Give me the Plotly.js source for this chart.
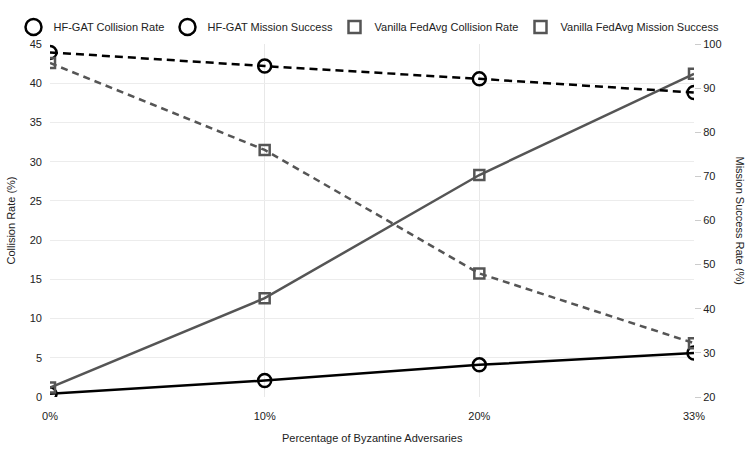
<!DOCTYPE html>
<html>
<head>
<meta charset="utf-8">
<script src="https://cdn.plot.ly/plotly-3.0.1.min.js"></script>
<style>html,body{margin:0;padding:0;background:#fff}#chart{width:751px;height:450px}</style>
</head>
<body>
<div id="chart"></div>
<script>
const categories = ["0%", "10%", "20%", "33%"];
const hfgatCollision = [0.4, 2.1, 4.1, 5.6];
const hfgatMission = [98.1, 95.0, 92.1, 89.0];
const vanillaCollision = [1.2, 12.6, 28.3, 41.2];
const vanillaMission = [95.7, 76.0, 48.0, 32.2];
const legendNames = ["HF-GAT Collision Rate", "HF-GAT Mission Success", "Vanilla FedAvg Collision Rate", "Vanilla FedAvg Mission Success"];
const axisTitles = {x: "Percentage of Byzantine Adversaries", y: "Collision Rate (%)", y2: "Mission Success Rate (%)"};

const BLACK = "#000000";
const GRAY = "#555555";
const TXT = "#222222";
const FS = 11;

const circle = {symbol: "circle-open", size: 13, color: BLACK, line: {width: 2.5, color: BLACK}};
const square = {symbol: "square-open", size: 10, color: GRAY, line: {width: 2.5, color: GRAY}};
const legCircle = {symbol: "circle-open", size: 16, color: BLACK, line: {width: 2.5, color: BLACK}};
const legSquare = {symbol: "square-open", size: 12, color: GRAY, line: {width: 2.5, color: GRAY}};

const data = [
  {x: categories, y: hfgatCollision, mode: "lines+markers", yaxis: "y", showlegend: false,
   line: {color: BLACK, width: 2.5}, marker: circle},
  {x: categories, y: hfgatMission, mode: "lines+markers", yaxis: "y2", showlegend: false,
   line: {color: BLACK, width: 2.5, dash: "8px,5px"}, marker: circle},
  {x: categories, y: vanillaCollision, mode: "lines+markers", yaxis: "y", showlegend: false,
   line: {color: GRAY, width: 2.5}, marker: square},
  {x: categories, y: vanillaMission, mode: "lines+markers", yaxis: "y2", showlegend: false,
   line: {color: GRAY, width: 2.5, dash: "7px,5px"}, marker: square},
  {x: [null], y: [null], mode: "markers", name: legendNames[0], marker: legCircle, legend: "legend"},
  {x: [null], y: [null], mode: "markers", name: legendNames[1], marker: legCircle, legend: "legend2"},
  {x: [null], y: [null], mode: "markers", name: legendNames[2], marker: legSquare, legend: "legend3"},
  {x: [null], y: [null], mode: "markers", name: legendNames[3], marker: legSquare, legend: "legend4"}
];

function leg(px) {
  return {orientation: "h", xref: "container", yref: "container", x: px / 751, xanchor: "left",
          y: 1 - 27 / 450, yanchor: "middle", font: {size: FS, color: TXT}, itemwidth: 30,
          bgcolor: "rgba(0,0,0,0)"};
}

const layout = {
  width: 751, height: 450,
  margin: {l: 50, r: 57, t: 44, b: 53, autoexpand: false},
  paper_bgcolor: "#fff", plot_bgcolor: "#fff",
  font: {family: "Arial, 'Liberation Sans', sans-serif", size: FS, color: TXT},
  showlegend: true,
  legend: leg(13.5),
  legend2: leg(167.5),
  legend3: leg(334.5),
  legend4: leg(520.5),
  xaxis: {
    type: "category", range: [0, 3], showgrid: true, gridcolor: "#e8e8e8",
    zeroline: false, showline: false, ticks: "", ticklabelstandoff: 11,
    tickfont: {size: FS, color: TXT}
  },
  yaxis: {
    range: [0, 45], dtick: 5, showgrid: true, gridcolor: "#ececec", zeroline: false,
    showline: false, ticks: "", ticklabelstandoff: 7,
    tickfont: {size: FS, color: TXT}
  },
  yaxis2: {
    range: [20, 100], dtick: 10, overlaying: "y", side: "right", showgrid: false,
    zeroline: false, showline: false, ticks: "outside", ticklen: 6, tickcolor: "#cccccc",
    tickfont: {size: FS, color: TXT}
  },
  annotations: [
    {text: axisTitles.x, xref: "paper", yref: "paper", x: 0.5, y: -(438 - 397) / 353,
     xanchor: "center", yanchor: "middle", showarrow: false, font: {size: FS, color: TXT}},
    {text: axisTitles.y, xref: "paper", yref: "paper", x: -(50 - 10) / 644, y: 0.5,
     xanchor: "center", yanchor: "middle", textangle: -90, showarrow: false, font: {size: FS, color: TXT}},
    {text: axisTitles.y2, xref: "paper", yref: "paper", x: 1 + (740 - 694) / 644, y: 0.5,
     xanchor: "center", yanchor: "middle", textangle: 90, showarrow: false, font: {size: FS, color: TXT}}
  ]
};

Plotly.newPlot("chart", data, layout, {displayModeBar: false, staticPlot: true});
</script>
</body>
</html>
